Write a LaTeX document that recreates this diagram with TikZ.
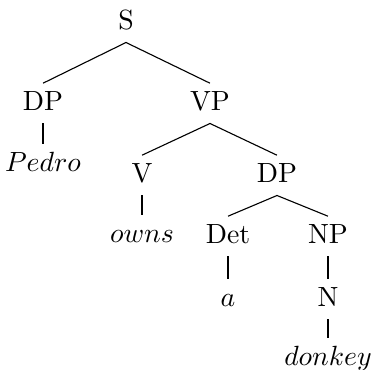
\documentclass[tikz,border=0pt]{standalone}
\usetikzlibrary{calc}
\tikzset{
	cat/.style={anchor=base, inner sep=3pt, text height=6.8pt, text depth=1.3pt},
	branch/.style={line width=0.4pt}
}
\begin{document}
\begin{tikzpicture}[x=0.36pt, y=-0.36pt]
			%%%%% START %%%%%
			\useasboundingbox (0, 0) rectangle (373, 370);
			
			\node[cat] (s) at (126, 30) {S};
			\node[cat] (dp) at (43, 111) {DP};
			\node[cat] (vp) at (210, 111) {VP};
			\node[cat] (pedro) at (43, 172) {$Pedro$};
			
			\node[cat] (v) at (142, 183) {V};
			\node[cat] (dpobj) at (277, 183) {DP};
			\node[cat] (owns) at (142, 243) {$owns$};
			
			\node[cat] (det) at (228, 244) {Det};
			\node[cat] (np) at (328, 244) {NP};
			\node[cat] (a) at (228, 307) {$a$};
			\node[cat] (n) at (328, 307) {N};
			\node[cat] (donkey) at (328, 366) {$donkey$};
			
			\draw[branch] (s.south) -- (dp.north);
			\draw[branch] (s.south) -- (vp.north);
			\draw[branch] (dp.south) -- (pedro.north);
			\draw[branch] (vp.south) -- (v.north);
			\draw[branch] (vp.south) -- (dpobj.north);
			\draw[branch] (v.south) -- (owns.north);
			\draw[branch] (dpobj.south) -- (det.north);
			\draw[branch] (dpobj.south) -- (np.north);
			\draw[branch] (det.south) -- (a.north);
			\draw[branch] (np.south) -- (n.north);
			\draw[branch] (n.south) -- (donkey.north);
			%%%%% END %%%%%
\end{tikzpicture}
\end{document}
